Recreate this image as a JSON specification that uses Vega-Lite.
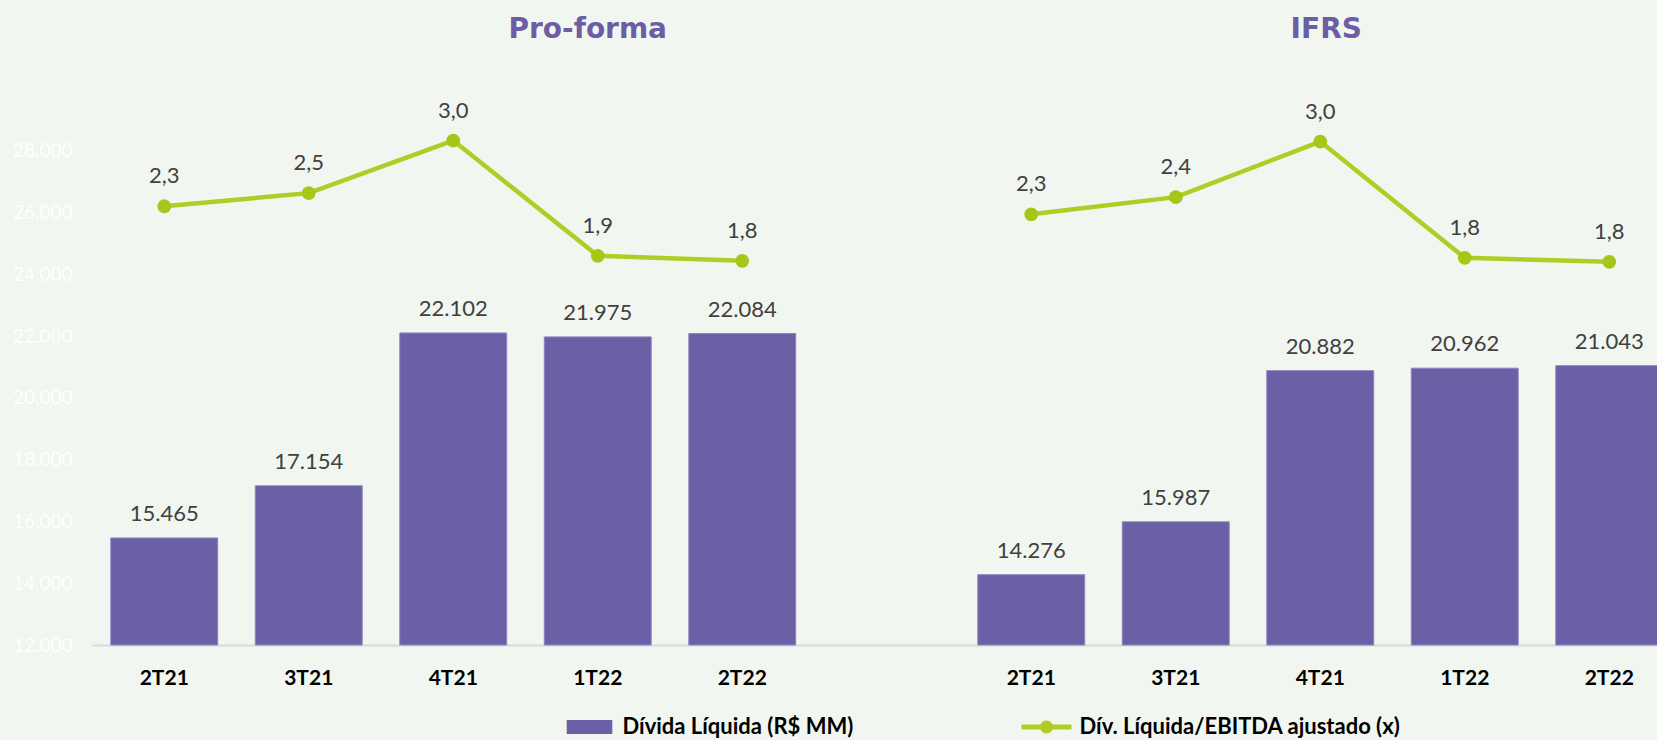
{
  "$schema": "https://vega.github.io/schema/vega-lite/v6.json",
  "width": 1565,
  "height": 556,
  "autosize": {"type": "none"},
  "padding": {"left": 92, "top": 89, "right": 0, "bottom": 95},
  "background": "#f1f6f0",
  "config": {
    "view": {"stroke": null},
    "font": "Lato",
    "locale": {"number": {"decimal": ",", "thousands": ".", "grouping": [3], "currency": ["R$ ", ""]}}
  },
  "data": {
    "values": [
      {"panel": "Pro-forma", "quarter": "2T21", "key": "Pro-forma|2T21", "divida": 15465, "ratio": 2.34},
      {"panel": "Pro-forma", "quarter": "3T21", "key": "Pro-forma|3T21", "divida": 17154, "ratio": 2.47},
      {"panel": "Pro-forma", "quarter": "4T21", "key": "Pro-forma|4T21", "divida": 22102, "ratio": 2.99},
      {"panel": "Pro-forma", "quarter": "1T22", "key": "Pro-forma|1T22", "divida": 21975, "ratio": 1.85},
      {"panel": "Pro-forma", "quarter": "2T22", "key": "Pro-forma|2T22", "divida": 22084, "ratio": 1.80},
      {"panel": "IFRS", "quarter": "2T21", "key": "IFRS|2T21", "divida": 14276, "ratio": 2.26},
      {"panel": "IFRS", "quarter": "3T21", "key": "IFRS|3T21", "divida": 15987, "ratio": 2.43},
      {"panel": "IFRS", "quarter": "4T21", "key": "IFRS|4T21", "divida": 20882, "ratio": 2.98},
      {"panel": "IFRS", "quarter": "1T22", "key": "IFRS|1T22", "divida": 20962, "ratio": 1.83},
      {"panel": "IFRS", "quarter": "2T22", "key": "IFRS|2T22", "divida": 21043, "ratio": 1.79}
    ]
  },
  "resolve": {"scale": {"y": "independent"}, "axis": {"x": "independent"}},
  "layer": [
    {
      "encoding": {
        "x": {
          "field": "key",
          "type": "nominal",
          "sort": null,
          "scale": {
            "domain": ["Pro-forma|2T21", "Pro-forma|3T21", "Pro-forma|4T21", "Pro-forma|1T22", "Pro-forma|2T22", "gap", "IFRS|2T21", "IFRS|3T21", "IFRS|4T21", "IFRS|1T22", "IFRS|2T22"],
            "range": [0, 1589.5],
            "paddingInner": 0.26,
            "paddingOuter": 0.13
          },
          "axis": {
            "orient": "bottom",
            "title": null,
            "labelExpr": "indexof(datum.value, '|') > 0 ? split(datum.value, '|')[1] : ''",
            "labelAngle": 0,
            "ticks": false,
            "domainColor": "#d9d9d9",
            "domainWidth": 2,
            "labelFont": "Lato",
            "labelFontWeight": "bold",
            "labelFontSize": 21,
            "labelColor": "#000000",
            "labelPadding": 22,
            "labelBaseline": "top"
          }
        },
        "y": {
          "field": "divida",
          "type": "quantitative",
          "scale": {"domain": [12000, 30000], "zero": false, "nice": false},
          "axis": {
            "values": [12000, 14000, 16000, 18000, 20000, 22000, 24000, 26000, 28000],
            "format": ",.0f",
            "title": null,
            "grid": false,
            "ticks": false,
            "domain": false,
            "labelColor": "#ffffff",
            "labelFont": "Lato",
            "labelFontSize": 19,
            "labelPadding": 20
          }
        }
      },
      "layer": [
        {
          "mark": {"type": "bar", "stroke": "#8d84c2", "strokeWidth": 1},
          "encoding": {
            "y2": {"datum": 12000},
            "color": {
              "datum": "Dívida Líquida (R$ MM)",
              "type": "nominal",
              "scale": {
                "domain": ["Dívida Líquida (R$ MM)", "Dív. Líquida/EBITDA ajustado  (x)"],
                "range": ["#6b5fa6", "#b2cc26"]
              },
              "legend": {
                "orient": "none",
                "legendX": 472.5,
                "legendY": 613,
                "direction": "horizontal",
                "title": null,
                "padding": 0,
                "labelFont": "Lato",
                "labelFontSize": 22,
                "labelFontWeight": "bold",
                "labelColor": "#000000",
                "labelLimit": 600,
                "symbolSize": 2500,
                "labelOffset": 8,
                "columnPadding": 168,
                "symbolStrokeWidth": 0,
                "symbolOpacity": 1,
                "symbolType": {"expr": "datum.value === 'Dívida Líquida (R$ MM)' ? 'M-0.912,-0.28H0.912V0.28H-0.912Z' : 'M-1,-0.1H1V0.1H-1Z M-0.26,0A0.26,0.26,0,1,1,0.26,0A0.26,0.26,0,1,1,-0.26,0Z'"}
              }
            }
          }
        },
        {
          "mark": {"type": "text", "dy": -17, "baseline": "alphabetic", "font": "Lato", "fontSize": 22, "color": "#404040"},
          "encoding": {"text": {"field": "divida", "type": "quantitative", "format": ",.0f"}}
        }
      ]
    },
    {
      "encoding": {
        "x": {
          "field": "key",
          "type": "nominal",
          "sort": null,
          "axis": {
            "orient": "top",
            "title": null,
            "values": ["Pro-forma|1T22", "IFRS|4T21"],
            "labelExpr": "split(datum.value, '|')[0]",
            "labelAngle": 0,
            "ticks": false,
            "domain": false,
            "labelFont": "DejaVu Sans",
            "labelFontWeight": "bold",
            "labelFontSize": 28,
            "labelColor": "#6b5ea5",
            "labelBaseline": "alphabetic",
            "labelPadding": 52,
            "labelOffset": {"condition": {"test": "datum.value == 'IFRS|4T21'", "value": 6}, "value": -10}
          }
        },
        "y": {
          "field": "ratio",
          "type": "quantitative",
          "scale": {"domain": [-2, 3.5], "zero": false, "nice": false},
          "axis": null
        }
      },
      "layer": [
        {
          "mark": {"type": "line", "strokeWidth": 4.5},
          "encoding": {
            "detail": {"field": "panel", "type": "nominal"},
            "order": {"value": null},
            "color": {"datum": "Dív. Líquida/EBITDA ajustado  (x)", "type": "nominal"}
          }
        },
        {
          "mark": {"type": "point", "shape": "circle", "filled": true, "size": 190, "opacity": 1, "color": "#a8c617"},
          "encoding": {}
        },
        {
          "mark": {"type": "text", "dy": -23, "baseline": "alphabetic", "font": "Lato", "fontSize": 22, "color": "#404040"},
          "encoding": {"text": {"field": "ratio", "type": "quantitative", "format": ".1f"}}
        }
      ]
    }
  ]
}
